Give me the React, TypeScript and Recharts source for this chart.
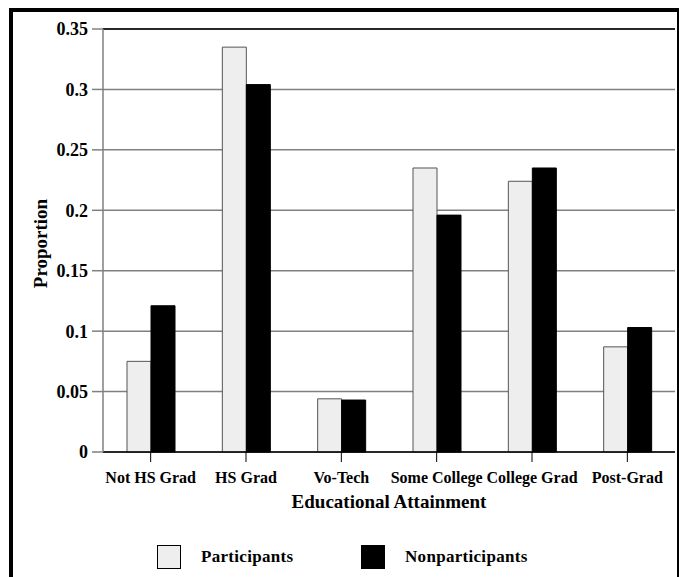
import React from 'react';
import { BarChart, Bar, XAxis, YAxis, CartesianGrid, ReferenceLine, Label } from 'recharts';

const categories = ['Not HS Grad', 'HS Grad', 'Vo-Tech', 'Some College', 'College Grad', 'Post-Grad'];
const participants = [0.075, 0.335, 0.044, 0.235, 0.224, 0.087];
const nonparticipants = [0.121, 0.304, 0.043, 0.196, 0.235, 0.103];
const yTicks = [0, 0.05, 0.1, 0.15, 0.2, 0.25, 0.3, 0.35];
const seriesNames = ['Participants', 'Nonparticipants'];
const seriesColors = ['#eeeeee', '#000000'];

const data = categories.map((c, i) => ({
  name: c,
  participants: participants[i],
  nonparticipants: nonparticipants[i],
}));

const FONT = '"Liberation Serif", "DejaVu Serif", serif';

const LegendBox = () => {
  const lefts = [157, 361];
  return (
    <div style={{ position: 'absolute', left: 0, top: 545, width: 679, height: 24 }}>
      {seriesNames.map((n, i) => (
        <div key={n} style={{ position: 'absolute', left: lefts[i], top: 0, display: 'flex', alignItems: 'center' }}>
          <div
            style={{
              width: 22,
              height: 22,
              background: seriesColors[i],
              border: '1px solid #000',
            }}
          />
          <span
            style={{
              marginLeft: 20,
              fontFamily: FONT,
              fontWeight: 'bold',
              fontSize: 17,
              color: '#000',
              letterSpacing: 0.3,
            }}
          >
            {n}
          </span>
        </div>
      ))}
    </div>
  );
};

export default function App() {
  return (
    <div style={{ position: 'absolute', left: 0, top: 0, width: 679, height: 577, background: '#fff' }}>
      <div
        style={{
          position: 'absolute',
          left: 9,
          top: 8,
          width: 670,
          height: 569,
          boxSizing: 'border-box',
          borderTop: '4px solid #000',
          borderLeft: '4px solid #000',
          borderRight: '2px solid #000',
        }}
      />
      <div style={{ position: 'absolute', left: 0, top: 0 }}>
        <BarChart
          width={679}
          height={577}
          data={data}
          margin={{ top: 29, right: 4, bottom: 0, left: 0 }}
          barCategoryGap={24}
          barGap={0}
        >
          <CartesianGrid horizontal vertical={false} stroke="#808080" strokeWidth={1.5} />
          <XAxis
            dataKey="name"
            height={125}
            axisLine={{ stroke: '#000', strokeWidth: 1.5 }}
            tickLine={{ stroke: '#000', strokeWidth: 1 }}
            tickSize={10}
            tickMargin={10}
            interval={0}
            tick={{ fill: '#000', fontFamily: FONT, fontWeight: 'bold', fontSize: 16 }}
          >
            <Label
              content={(p: any) => {
                const vb = p.viewBox || {};
                return (
                  <text
                    x={vb.x + vb.width / 2}
                    y={vb.y + 56}
                    textAnchor="middle"
                    fontFamily={FONT}
                    fontWeight="bold"
                    fontSize={19}
                    fill="#000"
                  >
                    Educational Attainment
                  </text>
                );
              }}
            />
          </XAxis>
          <YAxis
            width={103}
            domain={[0, 0.35]}
            ticks={yTicks}
            axisLine={{ stroke: '#808080', strokeWidth: 1.5 }}
            tickLine={{ stroke: '#808080', strokeWidth: 1.5 }}
            tickSize={11}
            tickMargin={4}
            tick={{ fill: '#000', fontFamily: FONT, fontWeight: 'bold', fontSize: 18 }}
          >
            <Label
              content={(p: any) => {
                const vb = p.viewBox || {};
                const cx = 40;
                const cy = vb.y + vb.height / 2 + 3;
                return (
                  <text
                    x={cx}
                    y={cy}
                    transform={`rotate(-90 ${cx} ${cy})`}
                    textAnchor="middle"
                    dominantBaseline="central"
                    fontFamily={FONT}
                    fontWeight="bold"
                    fontSize={19}
                    fill="#000"
                  >
                    Proportion
                  </text>
                );
              }}
            />
          </YAxis>
          <ReferenceLine y={0.35} stroke="#000" strokeWidth={1.5} />
          <Bar
            dataKey="participants"
            name={seriesNames[0]}
            fill={seriesColors[0]}
            stroke="#555"
            strokeWidth={1}
            isAnimationActive={false}
          />
          <Bar
            dataKey="nonparticipants"
            name={seriesNames[1]}
            fill={seriesColors[1]}
            stroke="#000"
            strokeWidth={1}
            isAnimationActive={false}
          />
        </BarChart>
      </div>
      <LegendBox />
    </div>
  );
}
